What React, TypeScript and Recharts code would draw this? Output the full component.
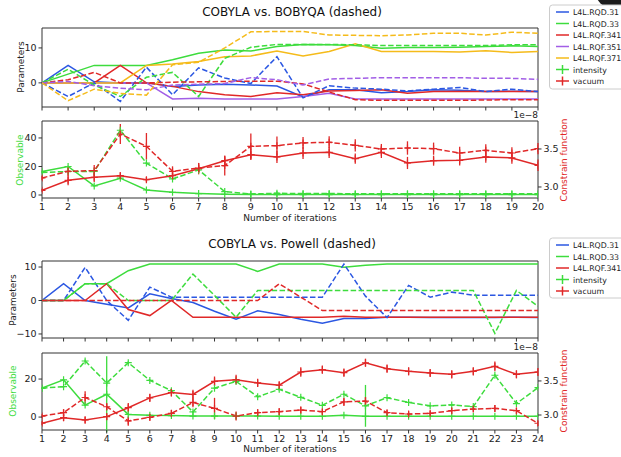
import React from 'react';
import { LineChart, Line, XAxis, YAxis, ErrorBar, ReferenceArea } from 'recharts';

const BLUE = '#2b57e2';
const GREEN = '#3ddc3d';
const RED = '#e02828';
const PURPLE = '#a25ee6';
const YELLOW = '#f5bb1a';
const FONT = '"DejaVu Sans", Verdana, sans-serif';
const DASH = '5.5 2.4';

// ---------- iterations ----------
const iters20 = [1, 2, 3, 4, 5, 6, 7, 8, 9, 10, 11, 12, 13, 14, 15, 16, 17, 18, 19, 20];
const iters24 = [1, 2, 3, 4, 5, 6, 7, 8, 9, 10, 11, 12, 13, 14, 15, 16, 17, 18, 19, 20, 21, 22, 23, 24];

// ---------- Panel 1: COBYLA (solid) vs BOBYQA (dashed) parameters ----------
const cobylaRQD31 = [0, 5, 0.3, 0, 0, -1, -0.6, -0.4, -0.6, -0.9, -4, -2, -2, -2.8, -2.5, -2, -2.1, -2.5, -2.4, -2.5];
const bobyqaRQD31 = [0, -3.9, 0, -5.3, 4.5, -3.4, 4.3, 1.4, -0.2, 7.5, -4.3, -0.8, -1.5, -1.8, -2.3, -1.8, -1.3, -2.5, -1.8, -2.5];
const cobylaRQD33 = [0, 2.5, 5, 5, 5, 6.6, 8.5, 9.4, 9.1, 10.4, 11, 10.9, 10.7, 9.9, 10.1, 10.1, 10.2, 10.4, 10.6, 10.4];
const bobyqaRQD33 = [0, 3.9, -0.6, -3.9, 1.6, 3.0, -3.9, 7.0, 10.2, 11, 11, 11, 10.9, 10.7, 10.7, 10.7, 10.7, 10.7, 10.9, 10.9];
const cobylaRQF341 = [0, 0, 0, 5, 0, -1, -2.5, -3.4, -3.9, -2.8, -3.4, -2.3, -2.2, -2, -3, -2.5, -2.5, -2.5, -2.5, -2.5];
const bobyqaRQF341 = [0, 0.9, 3, 0, 0, 0.2, 0.3, 0.4, 0.5, 0.5, -0.3, -2.6, -4.8, -5, -5, -5, -5, -4.9, -4.8, -4.8];
const cobylaRQF351 = [0, 0, 0, 0, 0, -4.6, -4.4, -4.6, -4.6, -4.6, -3.9, -3, -4.6, -4.6, -4.6, -4.6, -4.6, -4.6, -4.6, -4.6];
const bobyqaRQF351 = [0, 0.4, -0.8, -1.5, -2, -0.6, -0.4, -0.2, 1.5, 0.9, -0.6, 1.1, 1.3, 1.5, 1.5, 1.5, 1.5, 1.3, 1.3, 1.0];
const cobylaRQF371 = [0, 0, 0, 0, 5, 5.4, 6.1, 7.5, 7.7, 9.1, 7.7, 9.0, 11.2, 9.0, 9.0, 9.0, 8.8, 9.2, 8.7, 9.0];
const bobyqaRQF371 = [0, -5.1, -1.8, -3, -3.5, 5.2, 5.9, 10, 14.6, 14.7, 14.7, 13.7, 13.6, 13.5, 13.7, 14.2, 14.2, 13.7, 14.5, 14.2];

// ---------- Panel 2: observables (intensity left axis, vacuum right axis x1e-8) ----------
const cobylaIntensity = [16.5, 20, 6.4, 11.8, 3.5, 1.9, 1.0, 0.5, 0.4, 0.3, 0.3, 0.3, 0.3, 0.3, 0.3, 0.3, 0.3, 0.3, 0.3, 0.3];
const cobylaIntensityErr = [0.5, 0.5, 0.5, 0.5, 0.4, 0.3, 0.2, 0.2, 0.2, 0.2, 0.2, 0.2, 0.2, 0.2, 0.2, 0.2, 0.2, 0.2, 0.2, 0.2];
const bobyqaIntensity = [15.8, 16.5, 16.5, 45.4, 22.4, 11.3, 17.6, 2.4, 0.7, 1.2, 1.0, 1.0, 0.9, 0.9, 0.9, 0.9, 0.9, 0.9, 0.9, 0.9];
const bobyqaIntensityErr = [0.5, 0.5, 0.5, 0.8, 0.6, 0.5, 0.5, 0.3, 0.2, 0.2, 0.2, 0.2, 0.2, 0.2, 0.2, 0.2, 0.2, 0.2, 0.2, 0.2];
const cobylaVacuum = [2.956, 3.088, 3.127, 3.149, 3.096, 3.149, 3.241, 3.346, 3.425, 3.395, 3.447, 3.456, 3.373, 3.456, 3.316, 3.346, 3.351, 3.395, 3.382, 3.285];
const cobylaVacuumErr = [0.02, 0.066, 0.06, 0.044, 0.035, 0.044, 0.075, 0.066, 0.07, 0.08, 0.08, 0.075, 0.066, 0.075, 0.08, 0.066, 0.07, 0.075, 0.075, 0.075];
const bobyqaVacuum = [3.118, 3.206, 3.215, 3.697, 3.535, 3.206, 3.25, 3.281, 3.535, 3.544, 3.579, 3.588, 3.548, 3.5, 3.513, 3.504, 3.447, 3.482, 3.447, 3.504];
const bobyqaVacuumErr = [0.03, 0.066, 0.075, 0.13, 0.175, 0.066, 0.066, 0.13, 0.17, 0.12, 0.08, 0.08, 0.08, 0.066, 0.088, 0.08, 0.083, 0.08, 0.075, 0.075];

// ---------- Panel 3: COBYLA (solid) vs Powell (dashed) parameters ----------
const cobyla3RQD31 = [0, 5, 0, -1.1, -2.2, 2.0, 0.6, -0.6, -3.2, -5.6, -3.1, -4.2, -5.6, -6.8, -5.4, -5.4, -5, -5, -5.1, -5.1, -5.1, -5.1, -5, -5.1];
const powellRQD31 = [0, 0, 9.9, 0, -5.9, 4, 1, 1, 1, 1, 1, 1, 1, 1, 10.9, 1.3, -5.1, 4.5, 1, 2.5, 1.6, 1.6, 1.6, 1.6];
const cobyla3RQD33 = [0, 0, 5, 5, 8.9, 10.9, 10.9, 10.9, 10.9, 10.9, 8.7, 10.9, 10.9, 10.9, 9.9, 10.5, 10.9, 10.9, 10.9, 10.9, 10.9, 10.9, 10.9, 10.9];
const powellRQD33 = [0, 0, 5, 5, 0, 0, 0, 7.9, 1.5, -5, 3, 3, 3, 3, 3, 3, 3, 3, 3, 3, 3, -9.8, 3, -1.7];
const cobyla3RQF341 = [0, 0, 0, 5, -2.7, -4.5, 0, -5, -5, -5, -5, -5, -5, -5, -4.7, -5, -5, -5, -5, -5, -5, -5, -5, -5];
const powellRQF341 = [0, 0, 0, 0, 0, 0, 0, 0, 0, 0, 0, 5, 1, -3, -3, -3, -3, -3, -3, -3, -3, -3, -3, -3];

// ---------- Panel 4: observables ----------
const cobyla4Intensity = [15.2, 19.6, 6.3, 12, 1.4, 0.9, 0.8, 0.5, 0.5, 0.5, 0.5, 0.4, 0.4, 0.4, 0.9, 0.4, 0.4, 0.4, 0.4, 0.4, 0.4, 0.4, 0.4, 0.4];
const cobyla4IntensityErr = [0.5, 0.5, 0.5, 20, 0.4, 0.3, 0.3, 0.2, 0.2, 0.2, 0.2, 0.2, 0.2, 0.2, 0.2, 0.2, 0.2, 0.2, 0.2, 0.2, 0.2, 0.2, 0.2, 0.2];
const powellIntensity = [15.2, 16, 29.5, 17.9, 28.6, 19.3, 13.9, 2.7, 15.2, 18.8, 10.7, 14.6, 10.4, 6.2, 12, 5.9, 10.2, 7.7, 5.9, 6.4, 5.5, 22, 7.1, 15.5];
const powellIntensityErr = [0.5, 0.5, 0.8, 0.5, 0.8, 0.5, 0.5, 0.3, 0.5, 0.5, 0.4, 0.4, 0.4, 0.3, 0.4, 11, 0.4, 0.3, 0.3, 0.3, 0.3, 0.6, 0.3, 0.5];
const cobyla4Vacuum = [2.879, 2.961, 2.927, 2.976, 3.107, 3.252, 3.33, 3.301, 3.495, 3.519, 3.471, 3.437, 3.631, 3.665, 3.621, 3.767, 3.68, 3.641, 3.617, 3.597, 3.641, 3.714, 3.597, 3.631];
const cobyla4VacuumErr = [0.03, 0.05, 0.05, 0.05, 0.07, 0.06, 0.06, 0.07, 0.07, 0.07, 0.06, 0.06, 0.07, 0.06, 0.06, 0.06, 0.06, 0.06, 0.06, 0.06, 0.06, 0.07, 0.06, 0.06];
const powellVacuum = [2.985, 3.034, 3.257, 3.121, 2.913, 2.966, 3.024, 3.184, 3.097, 2.985, 3.034, 3.049, 3.073, 3.049, 3.194, 3.204, 3.034, 3.015, 3.024, 3.063, 3.087, 3.097, 3.063, 2.879];
const powellVacuumErr = [0.025, 0.05, 0.09, 0.05, 0.07, 0.05, 0.05, 0.07, 0.155, 0.065, 0.05, 0.05, 0.05, 0.04, 0.06, 0.06, 0.04, 0.04, 0.04, 0.04, 0.04, 0.05, 0.04, 0.04];

// ---------- tick labels ----------
const p1YTicks = [0, 10];
const p2YTicks = [0, 20, 40];
const p3YTicks = [-10, 0, 10];
const p4YTicks = [0, 20];
const rightTicks = [3.0, 3.5];

// ---------- legends ----------
const legend1 = [
  { name: 'L4L.RQD.31', color: BLUE, err: false },
  { name: 'L4L.RQD.33', color: GREEN, err: false },
  { name: 'L4L.RQF.341', color: RED, err: false },
  { name: 'L4L.RQF.351', color: PURPLE, err: false },
  { name: 'L4L.RQF.371', color: YELLOW, err: false },
  { name: 'intensity', color: GREEN, err: true },
  { name: 'vacuum', color: RED, err: true },
];
const legend2 = [
  { name: 'L4L.RQD.31', color: BLUE, err: false },
  { name: 'L4L.RQD.33', color: GREEN, err: false },
  { name: 'L4L.RQF.341', color: RED, err: false },
  { name: 'intensity', color: GREEN, err: true },
  { name: 'vacuum', color: RED, err: true },
];

// ---------- tables ----------
const p1 = iters20.map((it, i) => ({
  it,
  cA: cobylaRQD31[i], bA: bobyqaRQD31[i],
  cB: cobylaRQD33[i], bB: bobyqaRQD33[i],
  cC: cobylaRQF341[i], bC: bobyqaRQF341[i],
  cD: cobylaRQF351[i], bD: bobyqaRQF351[i],
  cE: cobylaRQF371[i], bE: bobyqaRQF371[i],
}));
const p2 = iters20.map((it, i) => ({
  it,
  cI: cobylaIntensity[i], cIe: cobylaIntensityErr[i],
  bI: bobyqaIntensity[i], bIe: bobyqaIntensityErr[i],
  cV: cobylaVacuum[i], cVe: cobylaVacuumErr[i],
  bV: bobyqaVacuum[i], bVe: bobyqaVacuumErr[i],
}));
const p3 = iters24.map((it, i) => ({
  it,
  cA: cobyla3RQD31[i], pA: powellRQD31[i],
  cB: cobyla3RQD33[i], pB: powellRQD33[i],
  cC: cobyla3RQF341[i], pC: powellRQF341[i],
}));
const p4 = iters24.map((it, i) => ({
  it,
  cI: cobyla4Intensity[i], cIe: cobyla4IntensityErr[i],
  pI: powellIntensity[i], pIe: powellIntensityErr[i],
  cV: cobyla4Vacuum[i], cVe: cobyla4VacuumErr[i],
  pV: powellVacuum[i], pVe: powellVacuumErr[i],
}));

const tickStyle = { fontSize: 9.5, fill: '#222', fontFamily: FONT };
const tickLine = { stroke: '#333', strokeWidth: 1 };
const minusFmt = (v: number) => (v < 0 ? '\u2212' + Math.abs(v) : String(v));

const plusDot = (color: string) => (props: any) => {
  const { cx, cy, index } = props;
  if (cx == null || cy == null || isNaN(cx) || isNaN(cy)) return <g key={`d${index}`} />;
  return (
    <path
      key={`d${index}`}
      d={`M${cx - 3.5},${cy}H${cx + 3.5}M${cx},${cy - 3.5}V${cy + 3.5}`}
      stroke={color}
      strokeWidth={1.2}
      fill="none"
    />
  );
};

const ln = (key: string, color: string, dashed: boolean, yAxisId = 'l') => (
  <Line
    key={key}
    yAxisId={yAxisId}
    type="linear"
    dataKey={key}
    stroke={color}
    strokeWidth={1.5}
    strokeDasharray={dashed ? DASH : undefined}
    dot={false}
    activeDot={false}
    isAnimationActive={false}
  />
);

const eln = (key: string, errKey: string, color: string, dashed: boolean, yAxisId: string) => (
  <Line
    key={key}
    yAxisId={yAxisId}
    type="linear"
    dataKey={key}
    stroke={color}
    strokeWidth={1.5}
    strokeDasharray={dashed ? DASH : undefined}
    dot={plusDot(color)}
    activeDot={false}
    isAnimationActive={false}
  >
    <ErrorBar dataKey={errKey} width={0} stroke={color} strokeWidth={1.3} direction="y" isAnimationActive={false} />
  </Line>
);

const xAxis = (ticks: number[], labels: boolean, height: number) => (
  <XAxis
    dataKey="it"
    type="number"
    domain={[ticks[0], ticks[ticks.length - 1]]}
    ticks={ticks}
    interval={0}
    allowDataOverflow
    axisLine={false}
    tickSize={3.5}
    tickLine={tickLine}
    tick={tickStyle}
    tickFormatter={labels ? (v: number) => String(v) : () => ''}
    height={height}
  />
);

const leftAxis = (domain: [number, number], ticks: number[]) => (
  <YAxis
    yAxisId="l"
    type="number"
    domain={domain}
    ticks={ticks}
    interval={0}
    allowDataOverflow
    axisLine={false}
    tickSize={3.5}
    tickLine={tickLine}
    tick={tickStyle}
    tickFormatter={minusFmt}
    width={42}
  />
);

const rightAxis = (domain: [number, number]) => (
  <YAxis
    yAxisId="r"
    orientation="right"
    type="number"
    domain={domain}
    ticks={rightTicks}
    interval={0}
    allowDataOverflow
    axisLine={false}
    tickSize={3.5}
    tickLine={tickLine}
    tick={tickStyle}
    tickFormatter={(v: number) => v.toFixed(1)}
    width={83}
  />
);

const frame = (x2: number, domain: [number, number]) => (
  <ReferenceArea
    yAxisId="l"
    x1={1}
    x2={x2}
    y1={domain[0]}
    y2={domain[1]}
    fill="none"
    fillOpacity={0}
    stroke="#333"
    strokeWidth={1}
    ifOverflow="visible"
  />
);

const D1: [number, number] = [-6.9, 15.7];
const D2: [number, number] = [-2.1, 51.9];
const D2R: [number, number] = [2.855, 3.868];
const D3: [number, number] = [-11.2, 11.8];
const D4: [number, number] = [-6.8, 33.7];
const D4R: [number, number] = [2.78, 3.91];

const Legend = ({ items, top, height }: { items: typeof legend1; top: number; height: number }) => (
  <g>
    <rect x={549.5} y={top} width={90} height={height} rx={3} fill="#fff" stroke="#ccc" strokeWidth={1} />
    {items.map((it, i) => {
      const y = top + 7 + i * 11.5;
      return (
        <g key={it.name + i}>
          <line x1={556} x2={569} y1={y} y2={y} stroke={it.color} strokeWidth={1.5} />
          {it.err && <line x1={562.5} x2={562.5} y1={y - 4.5} y2={y + 4.5} stroke={it.color} strokeWidth={1.5} />}
          <text x={573} y={y + 3} fontSize={7.8} fill="#222" fontFamily={FONT}>
            {it.name}
          </text>
        </g>
      );
    })}
  </g>
);

export default function App() {
  return (
    <div style={{ position: 'absolute', left: 0, top: 0, width: 621, height: 457, background: '#fff', overflow: 'hidden' }}>
      {/* Panel 1 */}
      <div style={{ position: 'absolute', left: 0, top: 0 }}>
        <LineChart width={621} height={120} data={p1} margin={{ top: 28, right: 83, bottom: 0, left: 0 }}>
          {xAxis(iters20, false, 13)}
          {leftAxis(D1, p1YTicks)}
          {ln('cA', BLUE, false)}
          {ln('cB', GREEN, false)}
          {ln('cC', RED, false)}
          {ln('cD', PURPLE, false)}
          {ln('cE', YELLOW, false)}
          {ln('bA', BLUE, true)}
          {ln('bB', GREEN, true)}
          {ln('bC', RED, true)}
          {ln('bD', PURPLE, true)}
          {ln('bE', YELLOW, true)}
          {frame(20, D1)}
        </LineChart>
      </div>
      {/* Panel 2 */}
      <div style={{ position: 'absolute', left: 0, top: 110 }}>
        <LineChart width={621} height={120} data={p2} margin={{ top: 11, right: 0, bottom: 10, left: 0 }}>
          {xAxis(iters20, true, 22)}
          {leftAxis(D2, p2YTicks)}
          {rightAxis(D2R)}
          {eln('cI', 'cIe', GREEN, false, 'l')}
          {eln('bI', 'bIe', GREEN, true, 'l')}
          {eln('cV', 'cVe', RED, false, 'r')}
          {eln('bV', 'bVe', RED, true, 'r')}
          {frame(20, D2)}
        </LineChart>
      </div>
      {/* Panel 3 */}
      <div style={{ position: 'absolute', left: 0, top: 230 }}>
        <LineChart width={621} height={120} data={p3} margin={{ top: 31, right: 83, bottom: 0, left: 0 }}>
          {xAxis(iters24, false, 12)}
          {leftAxis(D3, p3YTicks)}
          {ln('cA', BLUE, false)}
          {ln('cB', GREEN, false)}
          {ln('cC', RED, false)}
          {ln('pA', BLUE, true)}
          {ln('pB', GREEN, true)}
          {ln('pC', RED, true)}
          {frame(24, D3)}
        </LineChart>
      </div>
      {/* Panel 4 */}
      <div style={{ position: 'absolute', left: 0, top: 340 }}>
        <LineChart width={621} height={117} data={p4} margin={{ top: 13, right: 0, bottom: 5, left: 0 }}>
          {xAxis(iters24, true, 22)}
          {leftAxis(D4, p4YTicks)}
          {rightAxis(D4R)}
          {eln('cI', 'cIe', GREEN, false, 'l')}
          {eln('pI', 'pIe', GREEN, true, 'l')}
          {eln('cV', 'cVe', RED, false, 'r')}
          {eln('pV', 'pVe', RED, true, 'r')}
          {frame(24, D4)}
        </LineChart>
      </div>
      {/* Text overlay */}
      <svg width={621} height={457} style={{ position: 'absolute', left: 0, top: 0, pointerEvents: 'none' }}>
        <circle cx={614} cy={-10} r={19} fill="#1c1c1c" />
        <text x={292} y={16} textAnchor="middle" fontSize={12} fill="#111" fontFamily={FONT}>COBYLA vs. BOBYQA (dashed)</text>
        <text x={292} y={248} textAnchor="middle" fontSize={12} fill="#111" fontFamily={FONT}>COBYLA vs. Powell (dashed)</text>
        <text transform="translate(23.5,67) rotate(-90)" textAnchor="middle" fontSize={9} fill="#222" fontFamily={FONT}>Parameters</text>
        <text transform="translate(15.5,300) rotate(-90)" textAnchor="middle" fontSize={9} fill="#222" fontFamily={FONT}>Parameters</text>
        <text transform="translate(22.5,160) rotate(-90)" textAnchor="middle" fontSize={9} fill={GREEN} fontFamily={FONT}>Observable</text>
        <text transform="translate(15.5,391) rotate(-90)" textAnchor="middle" fontSize={9} fill={GREEN} fontFamily={FONT}>Observable</text>
        <text transform="translate(566.5,160) rotate(-90)" textAnchor="middle" fontSize={9} fill={RED} fontFamily={FONT}>Constrain function</text>
        <text transform="translate(566.5,391) rotate(-90)" textAnchor="middle" fontSize={9} fill={RED} fontFamily={FONT}>Constrain function</text>
        <text x={290} y={221} textAnchor="middle" fontSize={9} fill="#222" fontFamily={FONT}>Number of iterations</text>
        <text x={290} y={452} textAnchor="middle" fontSize={9} fill="#222" fontFamily={FONT}>Number of iterations</text>
        <text x={538} y={118} textAnchor="end" fontSize={9} fill="#222" fontFamily={FONT}>1e−8</text>
        <text x={538} y={350} textAnchor="end" fontSize={9} fill="#222" fontFamily={FONT}>1e−8</text>
        <Legend items={legend1} top={5} height={84} />
        <Legend items={legend2} top={238} height={60} />
      </svg>
    </div>
  );
}
